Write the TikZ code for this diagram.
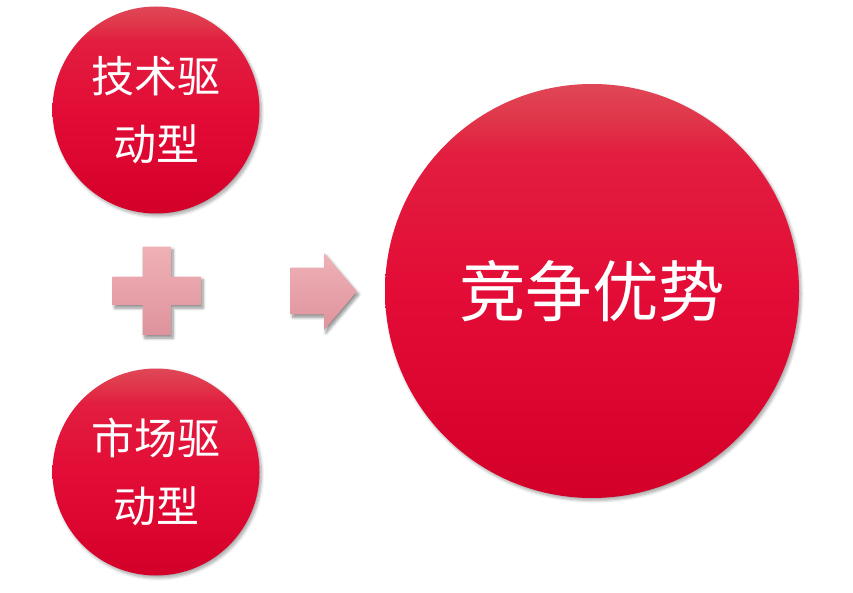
\documentclass[tikz,border=0pt]{standalone}
\usepackage{fontspec}
\newfontfamily\cjk{Noto Sans CJK SC}
\usetikzlibrary{shadows.blur}
\definecolor{ptop}{HTML}{EFB1B6}
\definecolor{pbot}{HTML}{DF939C}
\pgfdeclareverticalshading{redgrad}{100bp}{
  color(0bp)=(rgb,255:red,211;green,0;blue,42);
  color(25bp)=(rgb,255:red,211;green,0;blue,42);
  color(37.5bp)=(rgb,255:red,220;green,6;blue,48);
  color(50bp)=(rgb,255:red,227;green,12;blue,54);
  color(66.7bp)=(rgb,255:red,226;green,30;blue,64);
  color(70.8bp)=(rgb,255:red,224;green,54;blue,74);
  color(75bp)=(rgb,255:red,224;green,71;blue,87);
  color(100bp)=(rgb,255:red,224;green,71;blue,87)}
\tikzset{
  redball/.style={circle, inner sep=0pt, text=white, align=center,
    shading=redgrad,
    blur shadow={shadow xshift=2pt, shadow yshift=-2.5pt, shadow blur radius=3pt,
      shadow blur steps=6, shadow opacity=35}},
  pinkshape/.style={top color=ptop, bottom color=pbot,
    blur shadow={shadow xshift=2pt, shadow yshift=-3pt, shadow blur radius=3pt,
      shadow blur steps=6, shadow opacity=45}},
  smallfont/.style={font=\cjk\fontsize{43pt}{68pt}\selectfont},
  bigfont/.style={font=\cjk\fontsize{66.5pt}{80pt}\selectfont}
}
\begin{document}
\begin{tikzpicture}[x=1pt,y=-1pt]
\useasboundingbox (0,0) rectangle (853,593);
\node[redball, minimum size=207pt, smallfont] (tech) at (156,110) {技术驱\\动型};
\node[redball, minimum size=207pt, smallfont] (market) at (156,472) {市场驱\\动型};
\node[redball, minimum size=414pt, bigfont] (adv) at (592,291) {竞争优势};
% plus sign
\path[pinkshape] (142.7,246.7) -- (171,246.7) -- (171,276.7) -- (201,276.7) -- (201,305)
  -- (171,305) -- (171,335) -- (142.7,335) -- (142.7,305) -- (112.7,305)
  -- (112.7,276.7) -- (142.7,276.7) -- cycle;
% arrow
\path[pinkshape] (290.7,267.7) -- (324,267.7) -- (324,253) -- (356.7,291.5)
  -- (324,330) -- (324,314.3) -- (290.7,314.3) -- cycle;
\end{tikzpicture}
\end{document}
